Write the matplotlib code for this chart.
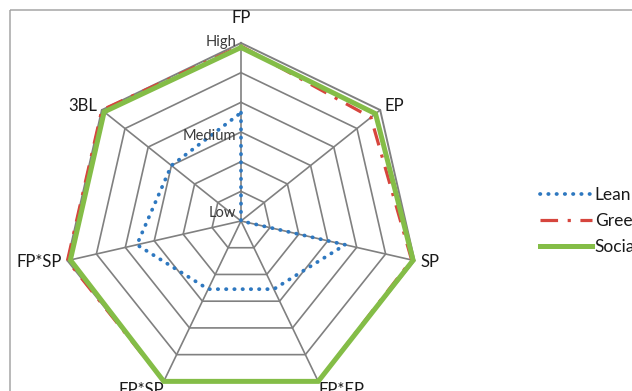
import numpy as np
import matplotlib
matplotlib.use("Agg")
import matplotlib.pyplot as plt
from matplotlib.patches import Rectangle

plt.rcParams['font.family'] = ['Lato', 'DejaVu Sans']

categories = ['FP', 'EP', 'SP', 'FP*EP', 'EP*SP', 'FP*SP', '3BL']
lean = [3.65, 0.0, 3.6, 2.55, 2.55, 3.6, 3.0]
green = [5.9, 5.6, 5.9, 6.0, 6.0, 6.0, 6.0]
social = [5.85, 5.8, 5.95, 6.0, 6.0, 5.9, 5.9]
level_values = [0, 3, 6]
level_labels = ['Low', 'Medium', 'High']
n_rings = 6

# chart geometry (pixels)
cx, cy, radius = 241, 221, 178
scale = radius / n_rings
angles = np.pi / 2 - np.arange(len(categories)) * 2 * np.pi / len(categories)


def to_xy(values, closed=True):
    r = np.asarray(values, dtype=float) * scale
    x = cx + r * np.cos(angles)
    y = cy - r * np.sin(angles)
    if closed:
        x = np.append(x, x[0])
        y = np.append(y, y[0])
    return x, y


fig = plt.figure(figsize=(6.32, 3.91), dpi=100)
ax = fig.add_axes([0, 0, 1, 1])
ax.set_xlim(0, 632)
ax.set_ylim(391, 0)
ax.axis('off')

# chart area border
ax.add_patch(Rectangle((10, 10), 800, 600, fill=False, edgecolor='#a6a6a6', lw=1.1))

grid_color = '#808080'
for k in range(1, n_rings + 1):
    gx, gy = to_xy([k] * len(categories))
    ax.plot(gx, gy, color=grid_color, lw=1.2 if k < n_rings else 1.4, zorder=1)
ox, oy = to_xy([n_rings] * len(categories), closed=False)
for x, y in zip(ox, oy):
    ax.plot([cx, x], [cy, y], color=grid_color, lw=1.2, zorder=1)

# series
lx, ly = to_xy(lean)
ax.plot(lx, ly, color='#2e78c0', lw=2.7, linestyle=(0, (0.1, 2.1)),
        dash_capstyle='round', label='Lean', zorder=3)
gx, gy = to_xy(green)
ax.plot(gx, gy, color='#d6453d', lw=2.3, linestyle=(0, (5.5, 3, 1, 3)),
        label='Green', zorder=4)
sx, sy = to_xy(social)
ax.plot(sx, sy, color='#84bd47', lw=3.6, solid_joinstyle='miter',
        label='Social', zorder=5)

# category labels
for name, a in zip(categories, angles):
    dx, dy = np.cos(a), np.sin(a)
    pad = 17 if dy > 0.9 else 6
    x = cx + (radius + pad) * dx
    y = cy - (radius + pad) * dy
    ha = 'left' if dx > 0.1 else ('right' if dx < -0.1 else 'center')
    if dy > 0.9:
        va = 'bottom'
    elif dy < -0.5:
        va = 'top'
    else:
        va = 'center'
    if va == 'top':
        x = cx + radius * dx
        y = cy - radius * dy + 1
    ax.text(x, y, name, ha=ha, va=va, fontsize=12, color='#1a1a1a')

# level labels along the first spoke
level_offsets = {0: -8, 3: 4, 6: -1}
for v, lab in zip(level_values, level_labels):
    ax.text(cx - 5, cy - v * scale + level_offsets[v], lab, ha='right', va='center',
            fontsize=10.5, color='#3a3a3a')

leg = ax.legend(loc='center left', bbox_to_anchor=(533 / 632, 1 - 221 / 391),
                frameon=False, fontsize=12.5, handlelength=3.0, handletextpad=0.15,
                labelspacing=0.6, borderaxespad=0)
for t in leg.get_texts():
    t.set_color('#1a1a1a')

fig.savefig('out.png', dpi=100)
